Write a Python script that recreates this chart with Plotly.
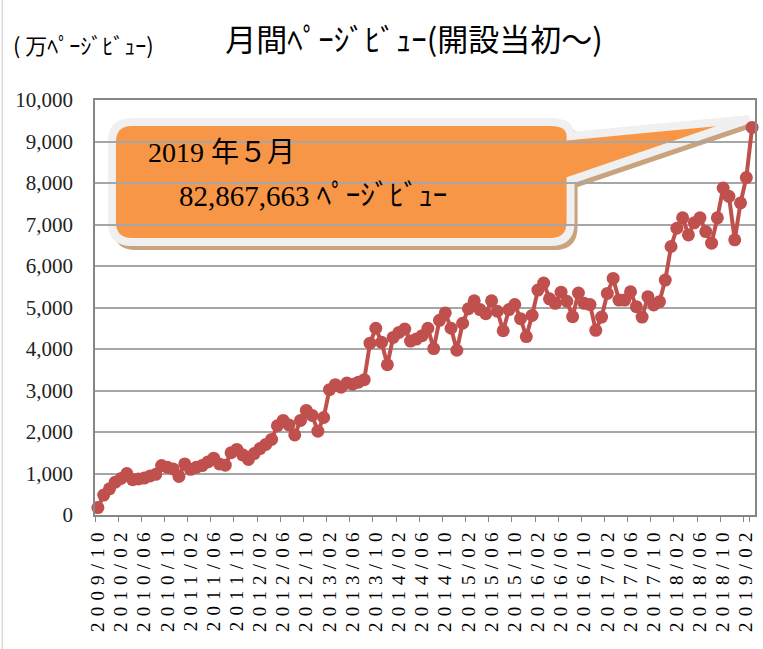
import plotly.graph_objects as go

# ---------------- data ----------------
months = (
    ["2009/10", "2009/11", "2009/12"]
    + ["2010/01", "2010/02", "2010/03", "2010/04", "2010/05", "2010/06", "2010/07", "2010/08", "2010/09", "2010/10", "2010/11", "2010/12"]
    + ["2011/01", "2011/02", "2011/03", "2011/04", "2011/05", "2011/06", "2011/07", "2011/08", "2011/09", "2011/10", "2011/11", "2011/12"]
    + ["2012/01", "2012/02", "2012/03", "2012/04", "2012/05", "2012/06", "2012/07", "2012/08", "2012/09", "2012/10", "2012/11", "2012/12"]
    + ["2013/01", "2013/02", "2013/03", "2013/04", "2013/05", "2013/06", "2013/07", "2013/08", "2013/09", "2013/10", "2013/11", "2013/12"]
    + ["2014/01", "2014/02", "2014/03", "2014/04", "2014/05", "2014/06", "2014/07", "2014/08", "2014/09", "2014/10", "2014/11", "2014/12"]
    + ["2015/01", "2015/02", "2015/03", "2015/04", "2015/05", "2015/06", "2015/07", "2015/08", "2015/09", "2015/10", "2015/11", "2015/12"]
    + ["2016/01", "2016/02", "2016/03", "2016/04", "2016/05", "2016/06", "2016/07", "2016/08", "2016/09", "2016/10", "2016/11", "2016/12"]
    + ["2017/01", "2017/02", "2017/03", "2017/04", "2017/05", "2017/06", "2017/07", "2017/08", "2017/09", "2017/10", "2017/11", "2017/12"]
    + ["2018/01", "2018/02", "2018/03", "2018/04", "2018/05", "2018/06", "2018/07", "2018/08", "2018/09", "2018/10", "2018/11", "2018/12"]
    + ["2019/01", "2019/02", "2019/03"]
)

page_views = [
    180, 480, 630, 790, 880, 1000, 850, 870, 890, 940,
    980, 1190, 1150, 1110, 930, 1230, 1100, 1150, 1190, 1280,
    1370, 1230, 1200, 1500, 1580, 1450, 1340, 1480, 1600, 1700,
    1820, 2150, 2280, 2170, 1930, 2280, 2520, 2400, 2020, 2350,
    3020, 3140, 3080, 3180, 3150, 3200, 3260, 4140, 4500, 4160,
    3620, 4280, 4400, 4480, 4190, 4240, 4320, 4500, 4010, 4690,
    4870, 4500, 3970, 4620, 4970, 5160, 4950, 4850, 5160, 4910,
    4440, 4950, 5070, 4730, 4300, 4810, 5420, 5590, 5210, 5100,
    5370, 5150, 4780, 5350, 5100, 5070, 4450, 4770, 5340, 5700,
    5180, 5180, 5380, 5020, 4770, 5260, 5060, 5140, 5660, 6470,
    6910, 7160, 6750, 7040, 7160, 6830, 6550, 7160, 7880, 7680,
    6630, 7520, 8130, 9340,
]

tick_labels = months[::4]
y_ticks = [0, 1000, 2000, 3000, 4000, 5000, 6000, 7000, 8000, 9000, 10000]

title_text = "月間ﾍﾟｰｼﾞﾋﾞｭｰ(開設当初～)"
unit_text = "( 万ﾍﾟｰｼﾞﾋﾞｭｰ)"
callout_line1 = "2019 年５月"
callout_line2 = "82,867,663 ﾍﾟｰｼﾞﾋﾞｭｰ"

# ---------------- layout geometry ----------------
W, H = 763, 649
ML, MR, MT, MB = 95, 6, 100, 134
PW, PH = W - ML - MR, H - MT - MB


def px(x):
    return (x - ML) / PW


def py(y):
    return (H - MB - y) / PH


LINE_RED = "#C0504D"
ORANGE = "#F79646"
SERIF = "Liberation Serif, Noto Sans CJK JP, serif"
CJK = "Noto Sans CJK JP, sans-serif"

fig = go.Figure()
fig.add_trace(
    go.Scatter(
        x=months,
        y=page_views,
        mode="lines+markers",
        line=dict(color=LINE_RED, width=4),
        marker=dict(color=LINE_RED, size=13),
        hoverinfo="x+y",
        showlegend=False,
        cliponaxis=False,
    )
)

# callout tip derived from the last data point (paper coordinates)
n = len(months)
tip_x = (n - 0.5) / n - 0.004
tip_y = page_views[-1] / 10000 + 0.02


def callout_path(dx=0.0, dy=0.0):
    L, R, T, B, r = 112 + dx, 572 + dx, 122 + dy, 242 + dy, 20
    s = (
        f"M {px(L + r)} {py(T)} L {px(R - r)} {py(T)} "
        f"Q {px(R)} {py(T)} {px(R)} {py(T + 14)} "
        f"L {tip_x + dx / PW} {tip_y - dy / PH} "
        f"L {px(R)} {py(T + 58)} "
        f"L {px(R)} {py(B - r)} Q {px(R)} {py(B)} {px(R - r)} {py(B)} "
        f"L {px(L + r)} {py(B)} Q {px(L)} {py(B)} {px(L)} {py(B - r)} "
        f"L {px(L)} {py(T + r)} Q {px(L)} {py(T)} {px(L + r)} {py(T)} Z"
    )
    return s


shapes = [
    # shadow
    dict(type="path", xref="paper", yref="paper", path=callout_path(4, 5),
         fillcolor="#C9A27E", line=dict(color="#C9A27E", width=6), layer="between"),
    # main body
    dict(type="path", xref="paper", yref="paper", path=callout_path(),
         fillcolor=ORANGE, line=dict(color="#F0F0F0", width=8), layer="between"),
    # chart area left border
    dict(type="line", xref="paper", yref="paper", x0=px(2), x1=px(2), y0=py(0), y1=py(649),
         line=dict(color="#D9D9D9", width=1.5)),
]

annotations = [
    dict(xref="paper", yref="paper", x=px(11), y=py(44), xanchor="left", yanchor="middle",
         text=unit_text, showarrow=False, font=dict(family=CJK, size=22, color="#000000")),
    dict(xref="paper", yref="paper", x=px(146), y=py(152), xanchor="left", yanchor="middle",
         text=callout_line1, showarrow=False, font=dict(family=SERIF, size=28, color="#000000")),
    dict(xref="paper", yref="paper", x=px(177), y=py(196), xanchor="left", yanchor="middle",
         text=callout_line2, showarrow=False, font=dict(family=SERIF, size=29, color="#000000")),
]

fig.update_layout(
    width=W,
    height=H,
    margin=dict(l=ML, r=MR, t=MT, b=MB, pad=0),
    paper_bgcolor="#FFFFFF",
    plot_bgcolor="#FFFFFF",
    title=dict(text=title_text, x=414 / W, y=1 - 40 / H, xanchor="center", yanchor="middle",
               font=dict(family=CJK, size=31, color="#000000")),
    shapes=shapes,
    annotations=annotations,
    xaxis=dict(
        type="category",
        categoryorder="array",
        categoryarray=months,
        range=[-0.5, n - 0.5],
        tickmode="array",
        tickvals=tick_labels,
        ticktext=tick_labels,
        tickson="boundaries",
        tickangle=-90,
        ticks="outside",
        ticklen=5,
        tickcolor="#868686",
        tickwidth=1,
        showgrid=False,
        showline=True,
        linecolor="#868686",
        linewidth=1.5,
        mirror=True,
        tickfont=dict(family=SERIF, size=19, color="#000000"),
        ticklabelstandoff=2,
        zeroline=False,
    ),
    yaxis=dict(
        range=[0, 10000],
        tickmode="array",
        tickvals=y_ticks,
        tickformat=",d",
        showgrid=True,
        gridcolor="#A6A6A6",
        gridwidth=1.5,
        showline=True,
        linecolor="#868686",
        linewidth=1.5,
        mirror=True,
        ticks="",
        tickfont=dict(family=SERIF, size=21, color="#222222"),
        ticklabelstandoff=16,
        zeroline=False,
    ),
)

post = """
document.body.style.margin = '0';
document.body.style.padding = '0';
var s = document.createElement('style');
s.innerHTML = '.xtick text { letter-spacing: 6.2px; }';
document.head.appendChild(s);
"""

fig.write_html("out.html", post_script=post, config={"displayModeBar": False})
